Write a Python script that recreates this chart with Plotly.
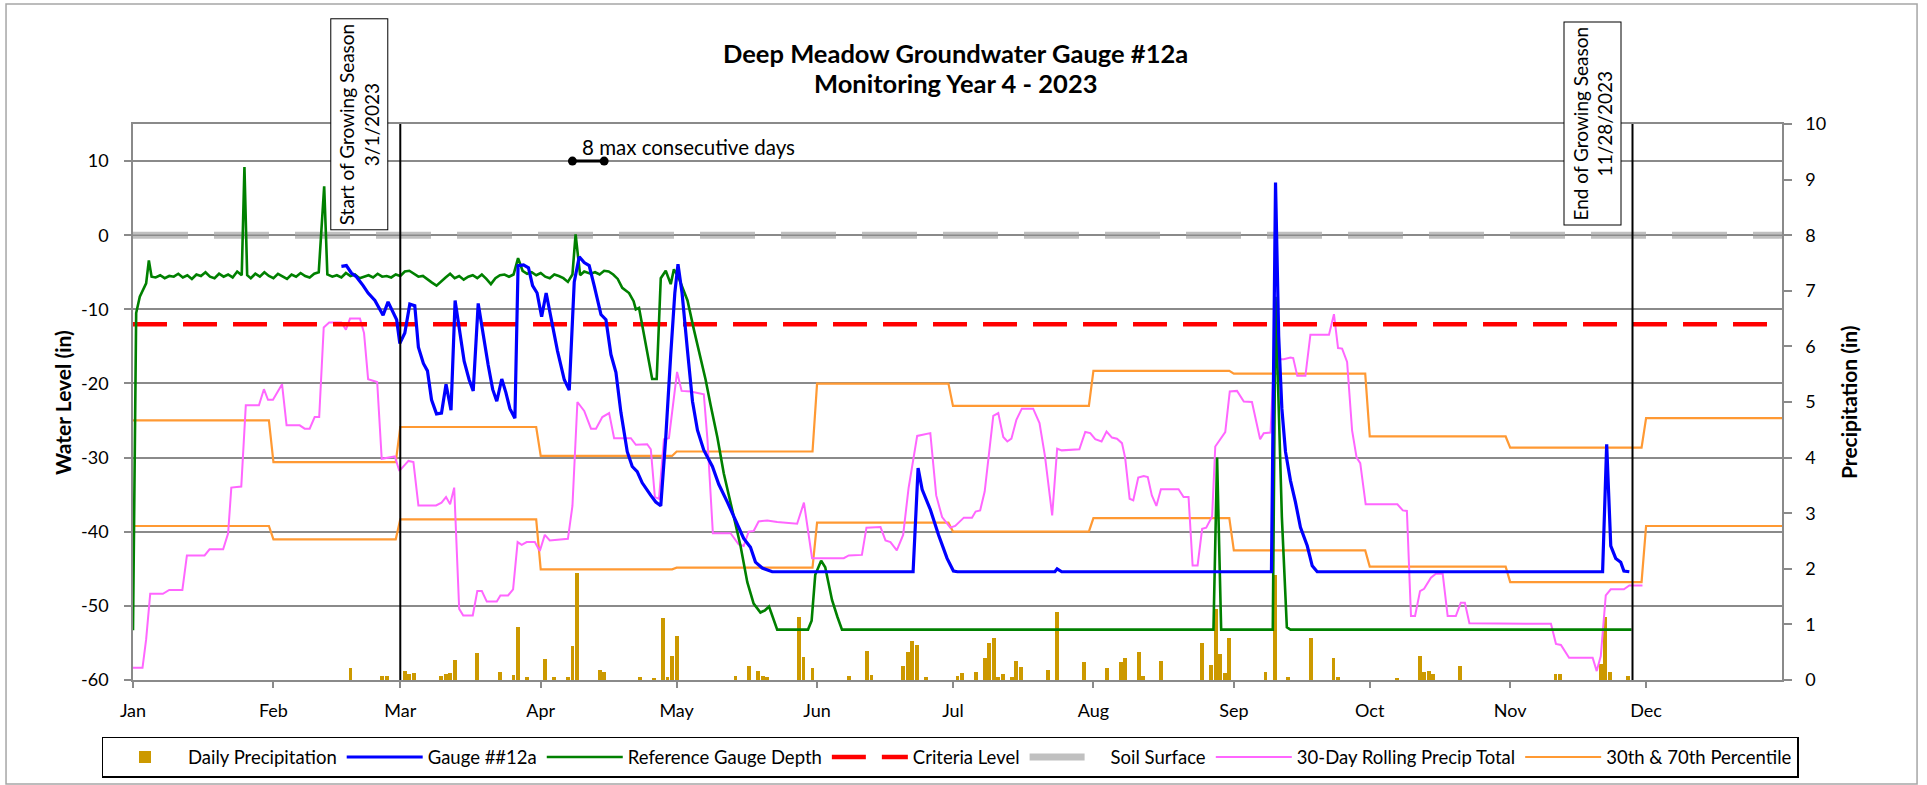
import pandas as pd
import plotly.graph_objects as go

FONT = "Lato"
YEAR_START = pd.Timestamp("2023-01-01")
YEAR_END = pd.Timestamp("2023-12-31")
SEASON_START = pd.Timestamp("2023-03-01")
SEASON_END = pd.Timestamp("2023-11-28")

# days counted from Jan 1 2023
gauge_day = [46, 47.1, 48.2, 49.3, 50.8, 51.9, 53.4, 54.5, 55.2, 56.3, 57.4, 58.2, 58.9, 60, 61.1, 62.2,
             63, 64.1, 65, 65.9, 67, 68.1, 69.1, 70.2, 71.1, 72.2, 73.1, 74.2, 75.1, 76.2, 77.3, 78.4,
             79.4, 80.3, 81.4, 82.3, 83.2, 84.3, 85, 86.2, 87.3, 88.2, 89.2, 90.2, 91.2, 92.2, 93.7,
             95.2, 96.3, 97.4, 98.5, 99.6, 100.7, 101.8, 103.3, 104.4, 105.5, 106.6, 107.7, 109.1,
             110.2, 111.3, 112.4, 114.3, 115.4, 116.5, 117.6, 118.7, 119.6, 120.3, 121.2, 122.4,
             123.5, 124.6, 126, 127.9, 129.3, 131.2, 133, 134.8, 136.3, 137.4, 138.9, 141.1, 172.2,
             173.3, 174.2, 176, 177.8, 179.7, 181.1, 182, 203.5, 204, 205, 251.3, 252.2, 252.9, 253.6,
             254.4, 255.5, 256.6, 257.7, 259.2, 260.3, 261.4, 324.4, 325.3, 326.2, 327.3, 328.4,
             329.1, 330.3]
gauge_in = [-4.2, -4.1, -5.1, -5.6, -6.8, -7.8, -8.8, -10.0, -10.8, -9.0, -10.5, -11.4, -14.6, -13.2,
            -9.3, -9.5, -15.1, -17.3, -18.3, -22.2, -24.1, -24.0, -20.1, -23.6, -8.8, -13.2, -17.0,
            -19.5, -21.0, -9.2, -13.6, -17.5, -20.8, -22.4, -19.4, -21.2, -23.4, -24.7, -4.1, -4.0,
            -4.4, -6.8, -7.8, -11.0, -7.8, -11.0, -15.6, -19.5, -20.9, -6.3, -2.9, -3.7, -4.1, -6.8,
            -10.7, -11.4, -16.1, -18.5, -23.9, -29.2, -31.2, -31.9, -33.4, -35.1, -36.0, -36.5,
            -27.3, -16.1, -7.8, -3.9, -7.8, -15.6, -22.4, -26.3, -29.0, -31.2, -33.6, -36.0, -38.5,
            -40.9, -42.1, -44.1, -44.9, -45.4, -45.4, -31.4, -34.3, -37.0, -40.4, -43.6, -45.3,
            -45.4, -45.4, -45.0, -45.4, -45.4, 7.1, -13.6, -23.4, -29.2, -33.1, -36.0, -39.4, -41.9,
            -44.6, -45.4, -45.4, -28.2, -41.9, -43.6, -44.1, -45.3, -45.4]

ref_day = [0, 0.7, 1.5, 2.2, 2.9, 3.5, 4.1, 5, 6, 7, 8, 9, 10, 11, 12, 13, 14, 15, 16, 17, 18, 19, 20,
           21, 22, 23, 24, 24.6, 25.2, 26, 27, 28, 29, 30, 31, 32, 33, 34, 35, 36, 37, 38, 39, 40,
           41, 42.2, 42.9, 44, 45, 46, 47, 48, 49, 50, 51, 52, 53, 54, 55, 56, 57, 58, 59, 60, 61,
           62, 63, 64, 65, 66, 67, 68, 69, 70, 71, 72, 73, 74, 75, 76, 77, 78, 79, 80, 81, 82, 83,
           84, 85, 86, 87, 88, 89, 90, 91, 92, 93, 94, 95, 96, 97, 97.7, 98.7, 99.6, 101, 102, 103,
           104, 105, 106, 107, 108, 109.5, 110.5, 111, 111.7, 112.8, 113.9, 114.6, 115.6, 116.5,
           117.6, 118.7, 119.4, 120.5, 121.5, 122.4, 123.8, 125.3, 126.4, 127.5, 129, 130.4, 132.3,
           134.1, 135.6, 137, 138.5, 139.5, 140.4, 141.2, 142.2, 149, 149.8, 150.6, 151.9, 152.8,
           154.3, 155.5, 156.5, 238.5, 239.3, 240.2, 251.6, 252.2, 253.6, 254.7, 255.5, 330.8]
ref_in = [-53.3, -10.5, -8.3, -7.3, -6.5, -3.4, -5.6, -5.7, -5.4, -5.8, -5.5, -5.6, -5.2, -5.7, -5.4,
          -5.9, -5.3, -5.5, -5.0, -5.6, -5.8, -5.2, -5.6, -5.3, -5.7, -4.9, -5.4, 9.2, -5.4, -5.8,
          -5.2, -5.6, -5.0, -5.5, -5.8, -5.2, -5.5, -5.9, -5.3, -5.6, -5.1, -5.5, -5.7, -5.2, -5.0,
          6.6, -5.3, -5.6, -5.4, -5.7, -5.1, -5.5, -5.3, -5.8, -5.6, -5.4, -5.7, -5.2, -5.6, -5.5,
          -5.7, -5.3, -5.5, -4.9, -4.8, -5.2, -5.6, -5.5, -6.0, -6.4, -6.8, -6.2, -5.7, -5.2, -5.8,
          -5.5, -6.0, -5.6, -5.4, -5.8, -5.3, -5.9, -6.6, -5.8, -5.4, -5.3, -5.6, -5.3, -3.1, -4.8,
          -5.2, -5.0, -5.4, -5.1, -5.6, -5.8, -5.3, -5.5, -5.8, -6.3, -5.3, 0.1, -5.4, -4.9, -5.2,
          -5.0, -5.3, -4.8, -4.9, -5.3, -5.9, -7.1, -7.8, -8.9, -10.0, -9.8, -13.6, -17.0, -19.4,
          -19.4, -5.8, -4.8, -6.6, -4.6, -5.8, -7.4, -8.8, -12.7, -16.6, -19.5, -22.9, -27.3, -32.1,
          -37.0, -41.9, -46.8, -49.7, -50.9, -50.6, -50.1, -51.5, -53.2, -53.2, -52.0, -45.8, -43.9,
          -44.8, -49.2, -51.5, -53.2, -53.2, -30.0, -53.2, -53.2, -8.3, -38.0, -52.9, -53.2, -53.2]

rolling_day = [0, 2.1, 2.9, 3.8, 6.6, 8, 10.9, 11.9, 15.8, 16.9, 19.9, 21, 21.7, 23.9, 24.9, 27.8, 28.9,
               29.8, 30.9, 32.9, 33.9, 36.8, 37.9, 39, 40.1, 41.1, 42.1, 43.3, 46, 47, 47.9, 50.1, 51,
               51.9, 53.9, 54.9, 57.8, 58.8, 59.8, 60.8, 61.9, 63, 66.9, 68.1, 69.1, 70, 70.9, 72, 72.9,
               75, 76, 77, 78.1, 80.3, 81.1, 82.8, 83.9, 84.9, 85.8, 86.9, 88.7, 89.8, 90.9, 92, 96, 97,
               98.1, 99.6, 101.1, 102.2, 103.6, 105.1, 106.2, 109.9, 111, 113.5, 114.3, 115.2, 116.1,
               117.2, 118.3, 120.1, 121.1, 123.1, 126, 126.8, 128, 131.9, 133.7, 134.8, 135.9, 137,
               138.1, 140, 142.2, 146.6, 148.1, 149.9, 156.9, 158, 160.9, 161.9, 165, 166.1, 167.2,
               168.6, 170, 171.2, 173.1, 174.5, 176, 177.3, 178.6, 180.4, 181.5, 183.4, 185.2, 186, 187,
               188, 189.9, 191, 192.1, 193, 193.9, 195, 196.2, 198.7, 200.1, 201.3, 202.9, 204, 205,
               208.9, 210.2, 211.3, 212.4, 213.8, 214.9, 216.1, 217.2, 218.3, 219, 220, 220.8, 221.9,
               223.1, 224, 224.9, 225.9, 226.9, 230.8, 231.9, 233, 233.9, 235, 236, 236.9, 238.2, 238.9,
               240, 241.1, 242.1, 243.7, 245.2, 247, 248.8, 249.6, 251.1, 251.9, 252.9, 254, 255.5,
               256.1, 257, 258.8, 259.9, 264, 265.1, 266, 266.9, 268, 269.1, 270.1, 270.9, 272.1, 279.1,
               280.3, 281.2, 282.1, 283, 284.1, 285, 286.5, 287.6, 289.1, 290.2, 292, 293.1, 294, 295,
               313, 314.1, 315.2, 317, 322.2, 323.1, 324, 325.1, 326.2, 329.1, 330.3, 333.2]
rolling_in = [0.22, 0.22, 0.73, 1.55, 1.55, 1.62, 1.62, 2.24, 2.24, 2.35, 2.35, 2.64, 3.46, 3.48, 4.94,
              4.94, 5.23, 5.04, 5.04, 5.32, 4.58, 4.58, 4.52, 4.52, 4.73, 4.73, 6.34, 6.43, 6.43, 6.30,
              6.50, 6.50, 6.24, 5.41, 5.36, 3.98, 4.02, 3.76, 3.85, 3.94, 3.92, 3.14, 3.14, 3.19, 3.29,
              3.16, 3.46, 1.28, 1.16, 1.16, 1.60, 1.60, 1.41, 1.41, 1.52, 1.52, 1.63, 2.48, 2.43, 2.48,
              2.48, 2.32, 2.61, 2.51, 2.54, 3.13, 5.00, 4.84, 4.52, 4.52, 4.73, 4.80, 4.35, 4.35, 4.23,
              4.24, 4.15, 3.29, 3.26, 4.33, 4.35, 5.54, 5.20, 5.19, 5.14, 4.33, 2.64, 2.64, 2.44, 2.41,
              2.67, 2.68, 2.85, 2.87, 2.84, 2.81, 3.19, 2.19, 2.19, 2.24, 2.25, 2.74, 2.75, 2.51, 2.48,
              2.33, 2.61, 3.45, 4.39, 4.41, 4.44, 3.32, 2.93, 2.74, 2.77, 2.92, 2.92, 3.03, 3.05, 3.39,
              4.75, 4.80, 4.37, 4.29, 4.34, 4.68, 4.88, 4.88, 4.62, 4.03, 2.96, 4.16, 4.13, 4.15, 4.46,
              4.44, 4.33, 4.29, 4.47, 4.36, 4.34, 4.26, 4.00, 3.26, 3.23, 3.64, 3.67, 3.65, 3.32, 3.13,
              3.43, 3.43, 3.29, 3.29, 2.06, 2.06, 2.72, 2.74, 2.94, 4.20, 4.33, 4.46, 5.19, 5.20, 5.01,
              5.00, 4.33, 4.44, 4.45, 5.82, 5.77, 5.77, 5.80, 5.79, 5.47, 5.47, 6.21, 6.21, 6.58, 5.97,
              5.96, 5.72, 4.49, 4.00, 3.90, 3.16, 3.16, 3.05, 3.04, 1.15, 1.15, 1.60, 1.64, 1.84, 1.91,
              1.91, 1.15, 1.15, 1.39, 1.39, 1.02, 1.01, 0.65, 0.63, 0.40, 0.40, 0.16, 0.43, 1.52, 1.63,
              1.63, 1.70, 1.70]

precip_day = [48, 55, 56, 60, 61, 62, 68, 69, 70, 71, 76, 81, 84, 85, 87, 91, 93, 96, 97, 98, 103, 104,
              112, 115, 117, 118, 119, 120, 133, 136, 138, 139, 140, 147, 148, 150, 158, 162, 163, 170,
              171, 172, 173, 175, 182, 183, 186, 188, 189, 190, 191, 192, 194, 195, 196, 202, 204, 210,
              215, 218, 219, 222, 223, 227, 236, 238, 239, 240, 241, 242, 250, 252, 255, 260, 265, 266,
              279, 284, 285, 286, 287, 293, 314, 315, 324, 325, 326, 330]
precip_in = [0.22, 0.08, 0.08, 0.16, 0.11, 0.12, 0.08, 0.10, 0.12, 0.36, 0.48, 0.15, 0.09, 0.95, 0.06,
             0.38, 0.05, 0.05, 0.61, 1.93, 0.18, 0.14, 0.05, 0.04, 1.12, 0.05, 0.43, 0.80, 0.08, 0.26,
             0.16, 0.08, 0.05, 1.13, 0.42, 0.21, 0.08, 0.52, 0.09, 0.26, 0.50, 0.71, 0.63, 0.06, 0.08,
             0.13, 0.14, 0.40, 0.66, 0.76, 0.05, 0.10, 0.05, 0.34, 0.24, 0.18, 1.23, 0.32, 0.21, 0.32,
             0.39, 0.50, 0.08, 0.34, 0.66, 0.27, 1.28, 0.47, 0.13, 0.76, 0.14, 1.89, 0.05, 0.75, 0.40,
             0.05, 0.03, 0.44, 0.14, 0.17, 0.11, 0.26, 0.11, 0.11, 0.28, 1.13, 0.14, 0.08]

pct_months = ["2023-01", "2023-02", "2023-03", "2023-04", "2023-05", "2023-06",
              "2023-07", "2023-08", "2023-09", "2023-10", "2023-11", "2023-12"]
pct_70 = [4.67, 3.92, 4.55, 4.03, 4.11, 5.33, 4.93, 5.56, 5.51, 4.38, 4.18, 4.71]
pct_30 = [2.77, 2.53, 2.89, 1.99, 2.02, 2.83, 2.67, 2.91, 2.33, 2.04, 1.76, 2.77]

level_ticks = [-60, -50, -40, -30, -20, -10, 0, 10]
criteria_level = -12
soil_level = 0
max_run_dates = ["2023-04-08", "2023-04-15"]
max_run_label = "8 max consecutive days"


def to_dates(days):
    return [YEAR_START + pd.Timedelta(days=d) for d in days]


# monthly percentile -> one flat segment per month
pct_x, pct70_y, pct30_y = [], [], []
for m, hi, lo in zip(pct_months, pct_70, pct_30):
    start = pd.Timestamp(m + "-01")
    end = start + pd.offsets.MonthEnd(0)
    pct_x += [start, end]
    pct70_y += [hi, hi]
    pct30_y += [lo, lo]

GRID = "#8a8a8a"
fig = go.Figure()

# precipitation side (right axis, drawn underneath)
fig.add_trace(go.Bar(x=to_dates(precip_day), y=precip_in, name="Daily Precipitation",
                     marker=dict(color="#CC9900", line_width=0), width=0.85 * 86400000,
                     yaxis="y", legendrank=1))
fig.add_trace(go.Scatter(x=pct_x, y=pct30_y, mode="lines", name="30th & 70th Percentile",
                         line=dict(color="#FF9933", width=2.2), legendgroup="pct",
                         showlegend=False, yaxis="y"))
fig.add_trace(go.Scatter(x=pct_x, y=pct70_y, mode="lines", name="30th & 70th Percentile",
                         line=dict(color="#FF9933", width=2.2), legendgroup="pct",
                         yaxis="y", legendrank=7))
fig.add_trace(go.Scatter(x=to_dates(rolling_day), y=rolling_in, mode="lines",
                         name="30-Day Rolling Precip Total", line=dict(color="#FF66FF", width=2),
                         yaxis="y", legendrank=6))

# water level side (left axis, drawn on top)
fig.add_trace(go.Scatter(x=[YEAR_START, YEAR_END], y=[criteria_level] * 2, mode="lines",
                         name="Criteria Level", line=dict(color="#FF0000", width=4.5, dash="34px,16px"),
                         yaxis="y2", legendrank=4))
fig.add_trace(go.Scatter(x=[YEAR_START, YEAR_END], y=[soil_level] * 2, mode="lines",
                         name="Soil Surface", line=dict(color="#C0C0C0", width=7, dash="55px,26px"),
                         yaxis="y2", legendrank=5))
fig.add_trace(go.Scatter(x=[YEAR_START, YEAR_END], y=[soil_level] * 2, mode="lines",
                         line=dict(color=GRID, width=1.5), showlegend=False, hoverinfo="skip",
                         yaxis="y2"))
fig.add_trace(go.Scatter(x=to_dates(ref_day), y=ref_in, mode="lines", name="Reference Gauge Depth",
                         line=dict(color="#008000", width=2.6), yaxis="y2", legendrank=3))
fig.add_trace(go.Scatter(x=to_dates(gauge_day), y=gauge_in, mode="lines", name="Gauge ##12a",
                         line=dict(color="#0000FF", width=3.2), yaxis="y2", legendrank=2))
fig.add_trace(go.Scatter(x=max_run_dates, y=[10, 10], mode="lines+markers", showlegend=False,
                         line=dict(color="black", width=3), marker=dict(color="black", size=9),
                         yaxis="y2"))

tick_font = dict(family=FONT, size=18, color="black")
fig.update_layout(
    width=1927, height=785,
    margin=dict(l=133, r=145, t=124, b=105, autoexpand=False),
    paper_bgcolor="white", plot_bgcolor="white",
    font=dict(family=FONT, color="black"),
    bargap=0,
    xaxis=dict(type="date", range=[YEAR_START, YEAR_END], dtick="M1", tick0="2023-01-01",
               tickformat="%b", ticks="outside", ticklen=6, tickcolor=GRID, tickwidth=1.5,
               showgrid=False, showline=True, linecolor=GRID, linewidth=1.5, mirror=True,
               tickfont=tick_font, ticklabelstandoff=8),
    yaxis=dict(range=[0, 10], dtick=1, side="right", showgrid=False, zeroline=False,
               showline=True, linecolor=GRID, linewidth=1.5, ticks="outside", ticklen=8,
               tickcolor=GRID, tickwidth=1.5, tickfont=tick_font, ticklabelstandoff=10),
    yaxis2=dict(range=[-60, 15], tickvals=level_ticks, ticktext=[str(v) for v in level_ticks],
                overlaying="y", side="left", showgrid=True, gridcolor=GRID, gridwidth=1.5,
                zeroline=False, showline=True, linecolor=GRID, linewidth=1.5, ticks="outside",
                ticklen=7, tickcolor=GRID, tickwidth=1.5, tickfont=tick_font, ticklabelstandoff=12),
    # left of the plot area so the one-row legend may be wider than the plot
    legend=dict(orientation="h", x=-0.0188, xanchor="left", y=-0.1025, yanchor="top",
                bordercolor="black", borderwidth=1.5, bgcolor="white",
                font=dict(family=FONT, size=18.5, color="black"), itemwidth=76),
    showlegend=True,
)

fig.add_shape(type="line", xref="x", yref="paper", x0=SEASON_START, x1=SEASON_START, y0=0, y1=1,
              line=dict(color="black", width=2))
fig.add_shape(type="line", xref="x", yref="paper", x0=SEASON_END, x1=SEASON_END, y0=0, y1=1,
              line=dict(color="black", width=2))
# chart frame
fig.add_shape(type="rect", xref="paper", yref="paper", x0=-0.077, x1=1.0819, y0=-0.187, y1=1.2158,
              line=dict(color="#a6a6a6", width=1.5), layer="below")

box = dict(textangle=-90, bordercolor="black", borderwidth=1, bgcolor="white", borderpad=4,
           showarrow=False, font=dict(family=FONT, size=19, color="black"),
           xanchor="center", yanchor="middle", yref="paper", y=1)
fig.add_annotation(x=SEASON_START, xshift=-41, text="Start of Growing Season<br>3/1/2023", **box)
fig.add_annotation(x=SEASON_END, xshift=-40, text="End of Growing Season<br>11/28/2023", **box)
fig.add_annotation(x=max_run_dates[0], y=10, yref="y2", xanchor="left", yanchor="middle",
                   xshift=8, yshift=14, showarrow=False, text=max_run_label,
                   font=dict(family=FONT, size=20.5, color="black"))

title_font = dict(family=FONT, size=25.5, color="black")
fig.add_annotation(xref="paper", yref="paper", x=0.499, y=1.1277, xanchor="center", yanchor="middle",
                   showarrow=False, text="<b>Deep Meadow Groundwater Gauge #12a</b>", font=title_font)
fig.add_annotation(xref="paper", yref="paper", x=0.499, y=1.0737, xanchor="center", yanchor="middle",
                   showarrow=False, text="<b>Monitoring Year 4 - 2023</b>", font=title_font)
axis_title_font = dict(family=FONT, size=21, color="black")
fig.add_annotation(xref="paper", yref="paper", x=-0.0431, y=0.5, xanchor="center", yanchor="middle",
                   showarrow=False, textangle=-90, text="<b>Water Level (in)</b>", font=axis_title_font)
fig.add_annotation(xref="paper", yref="paper", x=1.04, y=0.5, xanchor="center", yanchor="middle",
                   showarrow=False, textangle=-90, text="<b>Precipitation (in)</b>", font=axis_title_font)

fig.write_html("out.html", config={"displayModeBar": False},
               post_script="document.body.style.margin='0';")
